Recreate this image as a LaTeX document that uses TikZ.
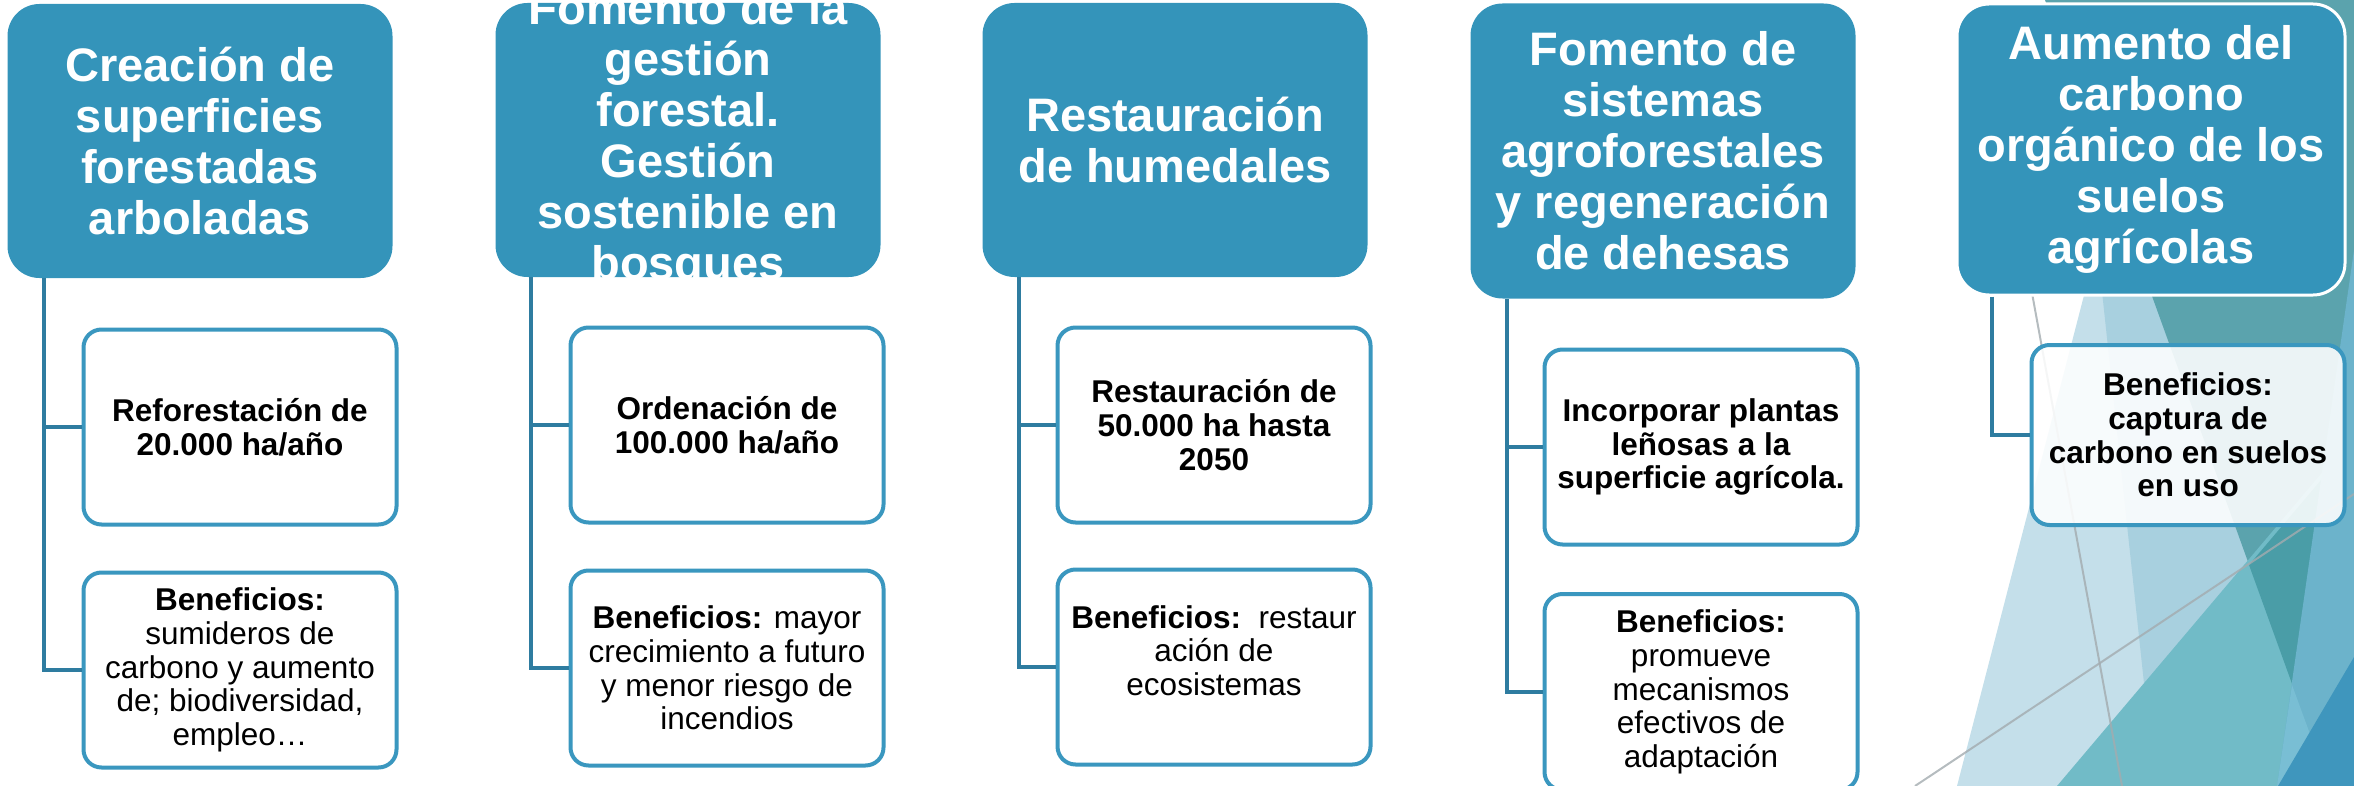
\documentclass[tikz,border=0pt]{standalone}
\usepackage{fontspec}
\setmainfont{Liberation Sans}
\usepackage{xcolor}

\definecolor{azulcab}{HTML}{3494BA}
\definecolor{azulborde}{HTML}{3A97BF}
\definecolor{azultronco}{HTML}{2E7CA0}
\definecolor{claro}{HTML}{C4DFEA}
\definecolor{medio}{HTML}{A8D0DF}
\definecolor{verdeazul}{HTML}{5BA3AD}
\definecolor{turquesa}{HTML}{71BBC7}
\definecolor{tealoscuro}{HTML}{4A9DA7}
\definecolor{franja}{HTML}{6CB3CB}
\definecolor{franjaclara}{HTML}{79BED4}
\definecolor{azulfondo}{HTML}{3F96BD}
\definecolor{linea}{HTML}{A3ABAF}

\tikzset{
  cabecera/.style={rounded corners=16pt, fill=azulcab, text=white, align=center,
    minimum width=192.5pt, minimum height=137pt, inner sep=0pt,
    font=\fontsize{23.5pt}{25.5pt}\selectfont\bfseries},
  textocab/.style={text=white, align=center, inner sep=0pt,
    font=\fontsize{23.5pt}{25.5pt}\selectfont\bfseries},
  subcaja/.style={rounded corners=9pt, draw=azulborde, line width=2pt, fill=white,
    align=center, minimum width=156.5pt, minimum height=97.5pt, inner sep=2pt,
    font=\fontsize{15.75pt}{16.8pt}\selectfont},
  negrita/.style={font=\fontsize{15.75pt}{16.8pt}\selectfont\bfseries},
  tronco/.style={draw=azultronco, line width=2pt}
}

\begin{document}
\begin{tikzpicture}[x=0.5pt,y=-0.5pt]
  \useasboundingbox (0,0) rectangle (2354,786);

  % fondo
  \fill[claro] (2097,245) -- (1957,786) -- (2354,786) -- (2354,245) -- cycle;
  \fill[medio] (2097,245) -- (2155,786) -- (2354,786) -- (2354,245) -- cycle;
  \fill[verdeazul] (2045,0) -- (2354,0) -- (2354,786) -- (2329,786) -- cycle;
  \fill[turquesa] (2057,786) -- (2354,435) -- (2354,786) -- cycle;
  \fill[tealoscuro] (2249,565) -- (2354,441) -- (2354,786) -- (2329,786) -- cycle;
  \fill[franja] (2354,250) -- (2277,786) -- (2354,786) -- cycle;
  \fill[franjaclara] (2292,685) -- (2277,786) -- (2329,786) -- cycle;
  \fill[azulfondo] (2278,786) -- (2354,657) -- (2354,786) -- cycle;
  \draw[linea, line width=1pt, opacity=.8] (2015,200) -- (2122,786);
  \draw[linea, line width=1pt, opacity=.8] (1915,786) -- (2354,494);

  % cabeceras
  \node[cabecera] (c1) at (200,141) {Creación de\\superficies\\forestadas\\arboladas};
  \node[cabecera] (c2) at (688,140) {};
  \node[textocab] (c2t) at (c2.center) {Fomento de la\\gestión\\forestal.\\Gestión\\sostenible en\\bosques};
  \node[cabecera] (c3) at (1175,140) {Restauración\\de humedales};
  \node[cabecera, minimum height=147.5pt] (c4) at (1663,151) {Fomento de\\sistemas\\agroforestales\\y regeneración\\de dehesas};
  \node[cabecera, minimum height=145.5pt, minimum width=194pt, draw=white, line width=1.5pt] (c5) at (2151,149.5)
    {Aumento del\\carbono\\orgánico de los\\suelos\\agrícolas};

  % cajas
  \node[subcaja, negrita] (s1a) at (240,427) {Reforestación de\\20.000 ha/año};
  \node[subcaja] (s1b) at (240,670) {\textbf{Beneficios:}\\sumideros de\\carbono y aumento\\de; biodiversidad,\\empleo…};
  \node[subcaja, negrita] (s2a) at (727,425) {Ordenación de\\100.000 ha/año};
  \node[subcaja] (s2b) at (727,668) {\textbf{Beneficios:} mayor\\crecimiento a futuro\\y menor riesgo de\\incendios};
  \node[subcaja, negrita] (s3a) at (1214,425) {Restauración de\\50.000 ha hasta\\2050};
  \node[subcaja] (s3b) at (1214,667) {\textbf{Beneficios:}\ \ restaur\\ación de\\ecosistemas\\~};
  \node[subcaja, negrita] (s4a) at (1701,447) {Incorporar plantas\\leñosas a la\\superficie agrícola.};
  \node[subcaja, minimum height=98pt] (s4b) at (1701,692) {\textbf{Beneficios:}\\promueve\\mecanismos\\efectivos de\\adaptación};
  \node[subcaja, negrita, minimum height=90pt, fill opacity=.88, text opacity=1] (s5) at (2188,435)
    {Beneficios:\\captura de\\carbono en suelos\\en uso};

  % troncos
  \draw[tronco] ([xshift=18.5pt]c1.south west) |- (s1a.west);
  \draw[tronco] ([xshift=18.5pt]c1.south west) |- (s1b.west);
  \draw[tronco] ([xshift=18pt]c2.south west) |- (s2a.west);
  \draw[tronco] ([xshift=18pt]c2.south west) |- (s2b.west);
  \draw[tronco] ([xshift=18.5pt]c3.south west) |- (s3a.west);
  \draw[tronco] ([xshift=18.5pt]c3.south west) |- (s3b.west);
  \draw[tronco] ([xshift=18.5pt]c4.south west) |- (s4a.west);
  \draw[tronco] ([xshift=18.5pt]c4.south west) |- (s4b.west);
  \draw[tronco] ([xshift=18pt]c5.south west) |- (s5.west);
\end{tikzpicture}
\end{document}
